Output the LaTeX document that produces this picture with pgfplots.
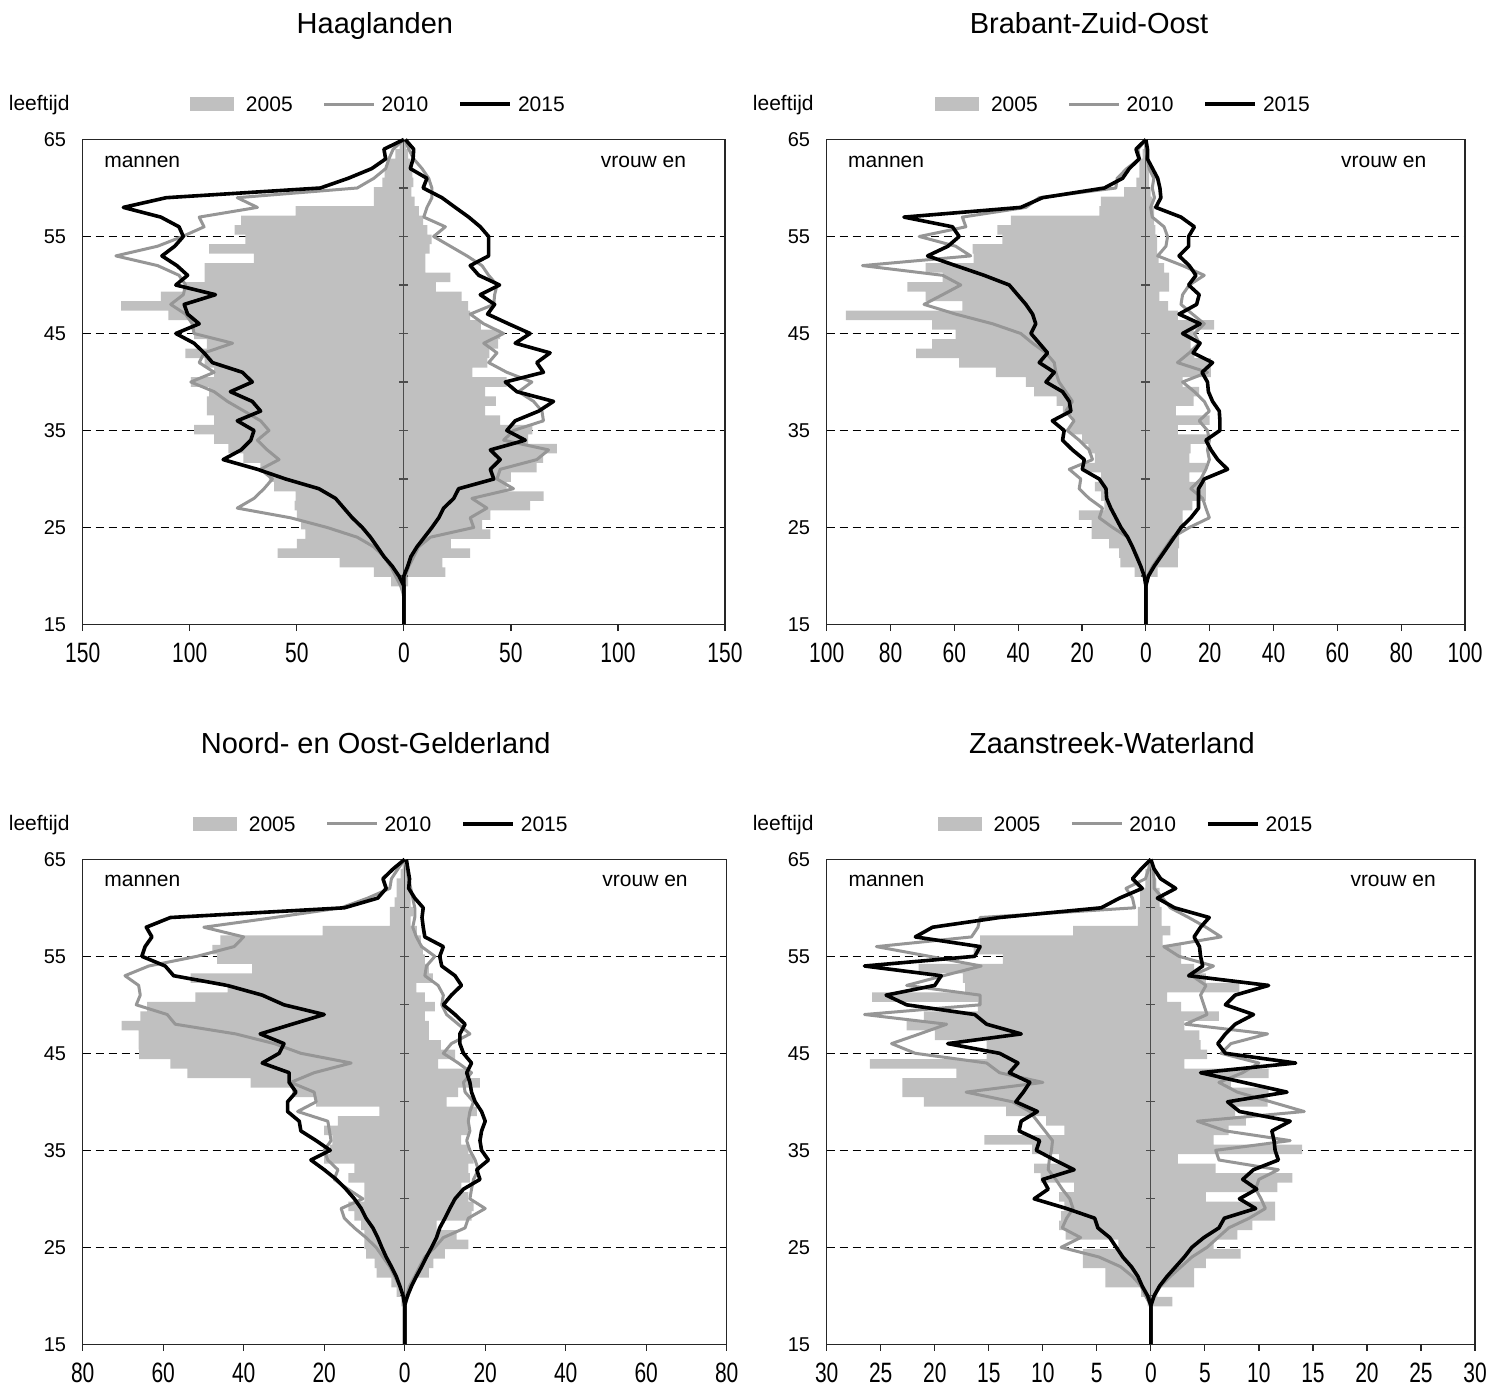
\documentclass[border=0pt]{standalone}
\usepackage{fontspec}
\setmainfont{Liberation Sans}
\newfontfamily\xtickfam[FakeStretch=0.75]{Liberation Sans}
\usepackage{pgfplots}
\usepackage{pgfplotstable}
\pgfplotsset{compat=1.18}

\definecolor{bar05}{RGB}{192,192,192}
\definecolor{line10}{RGB}{150,150,150}

\newcommand\xtickfont{\xtickfam\fontsize{14}{16}\selectfont}
\newcommand\ytickfont{\fontsize{10}{12}\selectfont}
\newcommand\legfont{\fontsize{10.5}{12}\selectfont}
\newcommand\titlefont{\fontsize{14.5}{17}\selectfont}

% Haaglanden
\pgfplotstableread{
a m05 m10 m15 f05 f10 f15
65 2 0 0 1 0.5 0.7
64 4 5 9.3 2 2.3 4.6
63 7.8 7 8.5 3 4.6 4.3
62 9 8.5 15 4 8.5 3
61 10 14 26 4.5 11.6 10.8
60 14 21.8 39 3.5 13.1 9
59 14 77.8 111 5 13.1 17.8
58 50.5 68.4 131 7 10.8 24
57 76 95.6 113.5 9 9.3 30.3
56 79 93.3 105 11 19.4 35.7
55 74 103.4 103 13 13.9 39.6
54 91 115 107 12 21.7 39.6
53 70 134.5 113 10 29.5 39.6
52 93 115 106 10 36.5 31
51 93 105 101 21.7 39.6 35
50 102 101.9 106.5 15 43.5 44.7
49 113.5 103 88 27 42.4 35.7
48 132 108.9 102.6 30 42 42.4
47 110 102 101 31 31 39.1
46 99.5 98.8 95.6 36 37.3 48.9
45 98 98 106.5 45 46.6 59
44 92 80 98 44 37.3 52
43 102 93.3 93.3 40 43.5 68.3
42 93 95.6 89.4 39 39.6 62.1
41 88.6 88.6 75.4 32 48.1 65.2
40 99.5 99.5 70.8 48 59.8 47.4
39 91 88.6 81 38 53.6 52.8
38 92 82.4 70.8 43 60.6 69.9
37 92 74.6 66.9 38 64.5 63
36 88.6 66.9 77.8 45 65.2 52
35 98 63 70 60 51.2 48.1
34 88.6 68.4 71.5 58 46.6 56.7
33 82 63.8 76 71.5 67.6 40.4
32 75 58.3 84.4 65 62.1 45
31 67 66.9 68.4 62 45 40.4
30 63 61.4 55.2 50 43.5 42
29 60.6 65.3 39.7 48 51.2 25.6
28 50.5 70 31.9 65.3 31.8 23.3
27 51 77.8 28 59 38.8 18.6
26 50 52.9 24.1 40.4 31 16.3
25 48 35.8 19.4 36.5 32.6 13.1
24 46 21.8 15.6 40.4 12.4 9.6
23 50 14 12.4 22 6.9 6.1
22 59 9.3 9.3 31 4.6 3.3
21 30 6.2 5.4 18 2.3 1.8
20 14 3.9 2.3 19.4 0.7 0
19 6 1.5 0 2 0 0
18 1 0 0 1 0 0
17 0 0 0 0 0 0
16 0 0 0 0 0 0
15 0 0 0 0 0 0
}\tabA

% Brabant-Zuid-Oost
\pgfplotstableread{
a m05 m10 m15 f05 f10 f15
65 0.5 0 0 0 0 0
64 1 2.5 3.1 0.5 0 0.5
63 2 2 2.1 1 0.5 0.5
62 2 6 5.2 1 1 2.1
61 3 9 7.3 1 2.5 3.7
60 6.8 9.4 13 1.5 2 4.4
59 14.1 33.4 32.4 2 2.7 4.7
58 14.6 37.6 39.2 2.6 1.5 3.1
57 42.3 57.5 75.8 2.6 2 11
56 46.5 56.4 60.6 3 5.7 15.2
55 45 71 58.5 3.5 6.8 13.4
54 54.3 59.6 62 3.5 6.3 13.4
53 54 54.9 68.4 4 3.7 10.4
52 69 88.8 59.6 5.7 11.5 13.6
51 63.7 63.7 50.7 7.3 18.3 15.7
50 74.7 58 42.8 7.3 13.6 13.4
49 69 63.7 40.2 4.2 11.5 16.7
48 57.5 69.5 37.6 7 11 15.9
47 94 59.6 35.5 10 14.6 10.4
46 67 48 34.5 21.4 18.3 17
45 59.6 39.2 36 15 15.2 11.5
44 67 35.5 33.4 14 16.7 17
43 72 31.3 30.8 15.2 13.6 14.8
42 58.5 28.7 33.4 20.4 9.9 20.9
41 47 28.2 28.7 20.4 19.3 17.6
40 37.6 27.2 31.3 11.5 11.5 19.3
39 35 25.1 26.1 16.7 15.2 19.6
38 28 23 24 15 18.3 20.9
37 26 25.1 23.5 9.4 19.9 23
36 23 22.5 29.3 20 16.7 23.2
35 24 24.6 25.6 10 19.3 23.2
34 20 20.9 26.1 20 19.9 18.8
33 18 17.8 23 14 19.3 20.4
32 16 16.7 19.3 13.6 19.9 22.5
31 19 24 19.9 18.8 18.8 25.6
30 14 20.4 14.6 13.6 17.2 18.3
29 16 20.9 12.5 18.8 14.1 16.5
28 14 17.8 12.3 18.8 17.8 16.5
27 13 13.6 11 14.6 18.8 16.5
26 21 14.6 9.4 11.5 19.9 14.1
25 17 10.4 7.8 11.5 13.6 11
24 17 5.7 5.7 10.4 8.4 8.9
23 11.5 4.2 4.2 10.4 6.3 6.8
22 8.4 2.6 2.9 10 4.2 4.7
21 8 1.6 1.6 10 2.1 2.6
20 3.5 0.5 0.5 3.7 0.5 0.8
19 0.5 0 0 0.5 0 0
18 0 0 0 0 0 0
17 0 0 0 0 0 0
16 0 0 0 0 0 0
15 0 0 0 0 0 0
}\tabB

% Noord- en Oost-Gelderland
\pgfplotstableread{
a m05 m10 m15 f05 f10 f15
65 0.5 0 0 0.5 0 0.4
64 1 1.7 2.9 1 0.5 0.8
63 2 3.3 5.4 1 1 1.2
62 2 3.7 4.6 1.5 1.5 1
61 2.5 9.2 6.7 1.5 2 2.5
60 3.7 15.8 15 2.1 2.5 4.6
59 3.7 32.4 58.2 1.5 2.5 4.3
58 20.4 49.9 64.2 3 2 4.6
57 45.8 40 62.8 4 2.9 5
56 47.8 42.4 64.5 4.5 4.2 9.6
55 46.6 51.6 65.3 5 7.5 8.7
54 37.9 63.6 59.5 6 5.4 9.2
53 53.2 69.5 57.4 7 5 12.5
52 44 66.1 44.1 2.9 8.3 14.1
51 52 65.7 35.4 5 9.6 11.6
50 64 66.7 30 7.5 9.2 9.6
49 65.7 59 20 5 10.4 12.5
48 70.3 57 28 6 13.3 15
47 66.1 42 35.9 6 16.2 13.7
46 66.1 32.4 30 9 11.6 13.7
45 66 25.8 31.2 12.5 9.6 14.6
44 58.2 13.3 35.4 8.3 13.3 16.6
43 54 22.5 28.7 15.8 16.6 15.4
42 38.3 28.3 28.7 18.7 14.6 16.2
41 28 22.5 27 13.3 15 16.6
40 22 22 29.1 10.4 17.1 17.5
39 6.3 26.6 29.1 17.9 16.2 19.1
38 16.6 19.1 26.2 15.8 15.8 20
37 20 18.7 25.8 15.8 16.2 19.1
36 18 18.3 22 14 15.4 18.7
35 18.5 20 18.5 15.8 16.2 19.1
34 20 19.1 23.3 17.1 17.5 20.8
33 12.5 16.6 20 15.8 18.3 17.9
32 14 17.5 17 16.2 17.1 18.7
31 10 14.1 14.6 14.1 16.6 14.6
30 10 10.4 12.5 15.8 16.2 12.5
29 14 15.8 10.8 17.1 20 11.2
28 12.5 15 9.6 16.6 15.8 10
27 10.8 12.5 7.9 7.9 15 8.7
26 10 9.6 6.7 12.9 9.6 7.9
25 10 7.1 5.7 15.8 7.5 6.7
24 9.6 5.4 4.6 10 5 5.4
23 7.5 3.7 3.3 7.1 3.7 4.2
22 7 2.5 2.1 6 2.5 2.9
21 3.3 1.2 1.2 2.1 1.2 1.7
20 2 0.4 0.4 1.3 0.4 0.7
19 0.8 0 0 0.5 0 0
18 0 0 0 0 0 0
17 0 0 0 0 0 0
16 0 0 0 0 0 0
15 0 0 0 0 0 0
}\tabC

% Zaanstreek-Waterland
\pgfplotstableread{
a m05 m10 m15 f05 f10 f15
65 0.3 0 0 0 0 0
64 0.5 0.2 0.9 0.3 0.2 0.3
63 0.5 0.5 1.7 0.5 0.3 0.9
62 1 2.3 0.8 0.8 0.3 2.3
61 1 1.7 2.9 0.8 1.1 0.6
60 1.2 1.5 4.6 1 1.8 2.2
59 1.2 15.8 14 1 3.5 5.4
58 7.2 16 20.2 1.8 5.1 4.6
57 15.8 16.6 21.8 1.1 6.5 4
56 16.4 25.4 15.8 2.8 1.2 4.5
55 13.7 20.5 16.3 2.8 2.6 4.6
54 21.5 15.7 26.5 4 5.8 4.8
53 17.4 19.2 19.4 5.1 3.8 3.5
52 17.2 22.6 20 8.2 5.1 10.9
51 25.8 15.8 24.5 1.5 4.6 7.8
50 16 15.8 22.6 2.8 4.9 6.9
49 21 26.5 16.3 6.3 5.2 9.5
48 22.6 18.9 15.2 3.1 3.2 7.8
47 20 21.4 12 4.5 10.8 6.9
46 15.2 24 18.8 4.6 7.4 6.2
45 15.2 21.8 14 5.2 6.5 6.9
44 26 15.2 12.3 3.1 10 13.4
43 18 14 13.1 10.9 8.5 4.6
42 23 10 11.2 7.4 6.3 8.6
41 23 17.1 11.8 10.9 8 12.6
40 21 12.8 12.5 10.8 11.1 7.1
39 13.4 11.2 10.5 7.8 14.2 8.2
38 9.7 10.5 12 8.8 4.3 12.9
37 8 9.8 12.2 7.2 6.9 11.2
36 15.4 9.1 10.3 5.8 12.9 11.4
35 11 9.2 10.6 14 6 11.5
34 8.5 9.4 8.9 2.5 6.3 11.8
33 10.8 9.5 7.1 6 11.8 9.5
32 10.2 8.8 10 13.1 10 8.5
31 7.1 8.2 9.5 11.7 9.7 9.8
30 8.5 7.5 10.8 5.1 10.2 8.2
29 8 7.2 7.8 11.5 10.6 9.7
28 8.3 7.8 5.2 11.5 9.1 6.8
27 8.5 8.2 4.9 9.4 7.2 6.3
26 7.9 6.5 3.8 8 6.2 4.9
25 3 8.3 3.2 5.8 5.2 3.8
24 6.3 4.8 2.6 8.3 3.8 3.1
23 6.3 2.8 1.8 5.1 2.8 2.3
22 4.2 1.7 1.2 4 1.8 1.5
21 4.2 0.9 0.8 4 0.9 0.8
20 0.9 0.5 0.3 0.6 0.3 0.3
19 0.3 0 0 2 0 0
18 0 0 0 0 0 0
17 0 0 0 0 0 0
16 0 0 0 0 0 0
15 0 0 0 0 0 0
}\tabD

\pgfplotsset{
  pyr/.style={
    scale only axis, anchor=south west,
    height=242.5pt,
    ymin=15, ymax=65,
    ytick={15,25,35,45,55,65},
    yticklabels={15,25,35,45,55,65},
    ymajorgrids,
    grid style={black, dash pattern=on 4pt off 2.5pt, line width=0.5pt},
    axis line style={black!85, line width=0.6pt},
    xtick pos=bottom, ytick pos=left,
    tick align=outside,
    ytick style={draw=none},
    xtick style={black!85, line width=0.6pt},
    major tick length=3.3pt,
    clip=false,
    yticklabel style={font=\ytickfont, anchor=east, xshift=-1.5pt},
    xticklabel style={font=\xtickfont, anchor=center, yshift=-11pt},
    legend columns=3,
    legend cell align=left,
    legend style={draw=none, fill=none, anchor=west, inner sep=0pt, outer sep=0pt,
      font=\legfont, nodes={inner sep=0pt, text depth=0pt},
      /tikz/every odd column/.append style={column sep=3pt},
      /tikz/every even column/.append style={column sep=15pt}},
  }
}

\newcommand\ctick[1]{([xshift=-2.3pt]axis cs:0,#1) -- ([xshift=2.3pt]axis cs:0,#1)}

\newcommand\pyrplots[1]{%
  \addplot[xbar, bar shift=0pt, bar width=0.98039, fill=bar05, draw=none,
    legend image code/.code={\fill[bar05] (0pt,-3.5pt) rectangle (22pt,3.5pt); \path (25pt,0pt);}]
    table[x expr=-\thisrow{m05}, y expr=15+(\thisrow{a}-14.5)*50/51] {#1};
  \addlegendentry{2005}
  \addplot[forget plot, xbar, bar shift=0pt, bar width=0.98039, fill=bar05, draw=none]
    table[x=f05, y expr=15+(\thisrow{a}-14.5)*50/51] {#1};
  \draw[black!70, line width=0.6pt] (axis cs:0,15) -- (axis cs:0,65)
    \ctick{20} \ctick{25} \ctick{30} \ctick{35} \ctick{40} \ctick{45} \ctick{50} \ctick{55} \ctick{60};
  \addplot[line10, line width=1.5pt, line join=round,
    legend image code/.code={\draw[line10, line width=1.5pt] (0pt,0pt) -- (25pt,0pt);}]
    table[x expr=-\thisrow{m10}, y=a] {#1};
  \addlegendentry{2010}
  \addplot[forget plot, line10, line width=1.5pt, line join=round]
    table[x=f10, y=a] {#1};
  \addplot[black, line width=1.8pt, line join=round,
    legend image code/.code={\draw[black, line width=1.8pt] (0pt,0pt) -- (25pt,0pt);}]
    table[x expr=-\thisrow{m15}, y=a] {#1};
  \addlegendentry{2015}
  \addplot[forget plot, black, line width=1.8pt, line join=round]
    table[x=f15, y=a] {#1};
  \node[font=\legfont, anchor=base east, inner sep=0pt] at (rel axis cs:-0.0198,1.0598) {leeftijd};
  \node[font=\legfont, anchor=base west, inner sep=0pt] at (rel axis cs:0.033,0.943) {mannen};
  \node[font=\legfont, anchor=base east, inner sep=0pt] at (rel axis cs:0.94,0.943) {vrouw en};
}

\begin{document}
\begin{tikzpicture}
\path[use as bounding box] (0pt,0pt) rectangle (751pt,693.5pt);

\begin{axis}[pyr, at={(41.35pt,381.25pt)}, width=321.15pt,
  xmin=-150, xmax=150,
  xtick={-150,-100,-50,0,50,100,150},
  xticklabels={150,100,50,0,50,100,150},
  legend style={at={(0.167,1.073)}}]
  \pyrplots{\tabA}
  \node[font=\titlefont, anchor=base] at (rel axis cs:0.455,1.219) {Haaglanden};
\end{axis}

\begin{axis}[pyr, at={(413.35pt,381.25pt)}, width=319.15pt,
  xmin=-100, xmax=100,
  xtick={-100,-80,-60,-40,-20,0,20,40,60,80,100},
  xticklabels={100,80,60,40,20,0,20,40,60,80,100},
  legend style={at={(0.1697,1.073)}}]
  \pyrplots{\tabB}
  \node[font=\titlefont, anchor=base] at (rel axis cs:0.411,1.219) {Brabant-Zuid-Oost};
\end{axis}

\begin{axis}[pyr, at={(41.35pt,21.35pt)}, width=322pt,
  xmin=-80, xmax=80,
  xtick={-80,-60,-40,-20,0,20,40,60,80},
  xticklabels={80,60,40,20,0,20,40,60,80},
  legend style={at={(0.171,1.073)}}]
  \pyrplots{\tabC}
  \node[font=\titlefont, anchor=base] at (rel axis cs:0.455,1.219) {Noord- en Oost-Gelderland};
\end{axis}

\begin{axis}[pyr, at={(413.35pt,21.35pt)}, width=324.15pt,
  xmin=-30, xmax=30,
  xtick={-30,-25,-20,-15,-10,-5,0,5,10,15,20,25,30},
  xticklabels={30,25,20,15,10,5,0,5,10,15,20,25,30},
  legend style={at={(0.171,1.073)}}]
  \pyrplots{\tabD}
  \node[font=\titlefont, anchor=base] at (rel axis cs:0.44,1.219) {Zaanstreek-Waterland};
\end{axis}
\end{tikzpicture}
\end{document}
